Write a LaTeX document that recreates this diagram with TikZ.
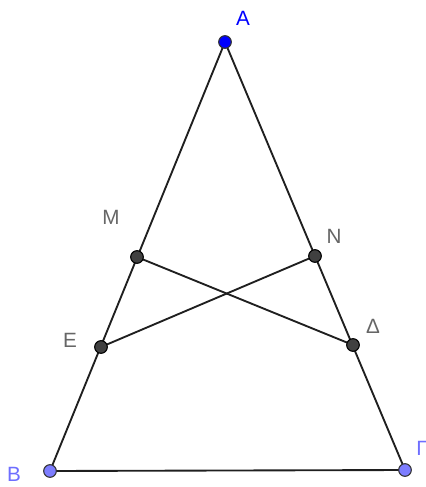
\documentclass[tikz,border=0pt]{standalone}
\usepackage{fontspec}
\setmainfont{Liberation Sans}
\begin{document}
\begin{tikzpicture}[x=0.75pt,y=-0.75pt,
  seg/.style={line width=1.4pt,draw=black!88},
  ptbig/.style={circle,inner sep=0pt,minimum size=9.5pt,draw=black!80,line width=0.8pt,fill=blue},
  ptlight/.style={circle,inner sep=0pt,minimum size=9.5pt,draw=black!80,line width=0.8pt,fill={rgb,255:red,125;green,125;blue,255}},
  ptdark/.style={circle,inner sep=0pt,minimum size=9.5pt,draw=black,line width=0.8pt,fill=black!75},
  lblblue/.style={text={rgb,255:red,0;green,0;blue,255},font=\fontsize{15.5}{18}\selectfont},
  lbllight/.style={text={rgb,255:red,110;green,110;blue,255},font=\fontsize{15.5}{18}\selectfont},
  lblgray/.style={text=black!60,font=\fontsize{15.5}{18}\selectfont}]
\useasboundingbox (0,0) rectangle (426,487);
\coordinate (A) at (225,42);
\coordinate (B) at (50,471);
\coordinate (G) at (405,470);
\coordinate (M) at (137,257);
\coordinate (E) at (101,347);
\coordinate (N) at (315,256);
\coordinate (D) at (353,345);
\draw[seg] (A) -- (B) -- (G) -- cycle;
\draw[seg] (M) -- (D);
\draw[seg] (E) -- (N);
\node[ptbig] (pA) at (A) {};
\node[ptlight] (pB) at (B) {};
\node[ptlight] (pG) at (G) {};
\node[ptdark] (pM) at (M) {};
\node[ptdark] (pE) at (E) {};
\node[ptdark] (pN) at (N) {};
\node[ptdark] (pD) at (D) {};
\node[lblblue] (lA) at (243,18) {Α};
\node[lbllight] (lB) at (14,474) {Β};
\node[lbllight] (lG) at (422,448) {Γ};
\node[lblgray] (lM) at (111,217) {Μ};
\node[lblgray] (lN) at (334,236) {Ν};
\node[lblgray] (lE) at (70,340) {Ε};
\node[lblgray] (lD) at (373,326) {Δ};
\end{tikzpicture}
\end{document}
